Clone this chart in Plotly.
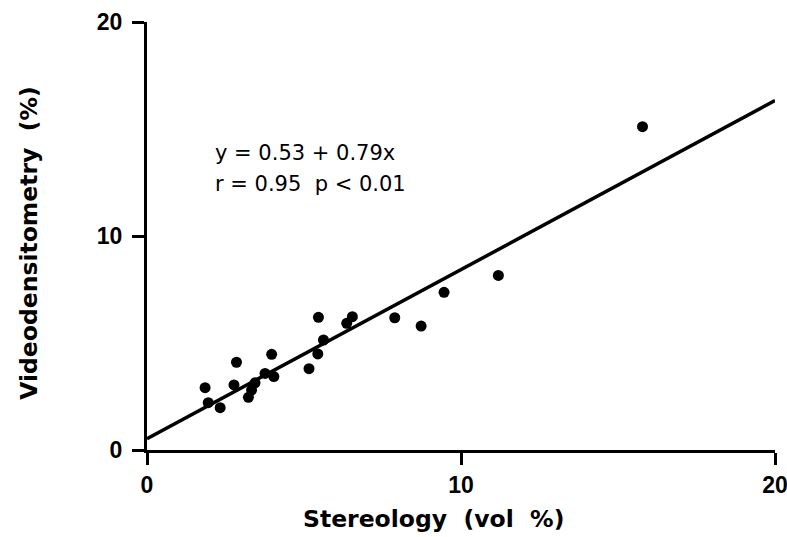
import plotly.graph_objects as go

# Stereology (vol %) vs videodensitometry (%) measurements
stereology = [1.85, 1.95, 2.33, 2.85, 2.77, 3.23, 3.33, 3.44, 3.76, 3.97, 4.04,
              5.16, 5.44, 5.46, 5.62, 6.36, 6.54, 7.89, 8.73, 9.46, 11.19, 15.78]
videodensitometry = [2.91, 2.21, 1.98, 4.10, 3.04, 2.46, 2.80, 3.14, 3.58, 4.47, 3.43,
                     3.80, 4.49, 6.20, 5.14, 5.92, 6.23, 6.18, 5.79, 7.37, 8.16, 15.11]

# Linear regression coefficients
intercept = 0.53
slope = 0.79
fit_x = [0, 20]
fit_y = [intercept + slope * x for x in fit_x]

tick_vals = [0, 10, 20]
tick_text = ["0", "10", "20"]

label_font = "Liberation Sans, Arial, sans-serif"
title_font = "DejaVu Sans, sans-serif"

fig = go.Figure()
fig.add_trace(go.Scatter(
    x=fit_x, y=fit_y, mode="lines",
    line=dict(color="black", width=3.5),
    showlegend=False, cliponaxis=False,
))
fig.add_trace(go.Scatter(
    x=stereology, y=videodensitometry, mode="markers",
    marker=dict(color="black", size=11),
    showlegend=False,
))

# Regression equation and statistics
fig.add_annotation(
    x=2.1, y=13.9, xref="x", yref="y",
    text="y = 0.53 + 0.79x", showarrow=False, xanchor="left",
    font=dict(family=title_font, size=21, color="black"),
)
fig.add_annotation(
    x=2.1, y=12.45, xref="x", yref="y",
    text="r = 0.95  p < 0.01", showarrow=False, xanchor="left",
    font=dict(family=title_font, size=21, color="black"),
)

# Axis titles
fig.add_annotation(
    x=0.457, y=-0.161, xref="paper", yref="paper",
    text="Stereology  (vol  %)", showarrow=False,
    xanchor="center", yanchor="middle",
    font=dict(family=title_font, size=23.5, color="black", weight="bold"),
)
fig.add_annotation(
    x=-0.188, y=0.484, xref="paper", yref="paper",
    text="Videodensitometry  (%)", showarrow=False, textangle=-90,
    xanchor="center", yanchor="middle",
    font=dict(family=title_font, size=23.5, color="black", weight="bold"),
)

axis_common = dict(
    showgrid=False, zeroline=False,
    showline=True, linecolor="black", linewidth=3,
    ticks="outside", ticklen=12, tickwidth=3, tickcolor="black",
    tickvals=tick_vals, ticktext=tick_text,
    tickfont=dict(family=label_font, size=23, color="black", weight="bold"),
    ticklabeloverflow="allow",
    automargin=False,
    range=[0, 20],
)

fig.update_layout(
    width=787, height=537,
    margin=dict(l=147, r=12, t=22, b=87),
    paper_bgcolor="white", plot_bgcolor="white",
    xaxis=dict(**axis_common, ticklabelstandoff=0),
    yaxis=dict(**axis_common, ticklabelstandoff=5),
)

fig.write_html("out.html")
